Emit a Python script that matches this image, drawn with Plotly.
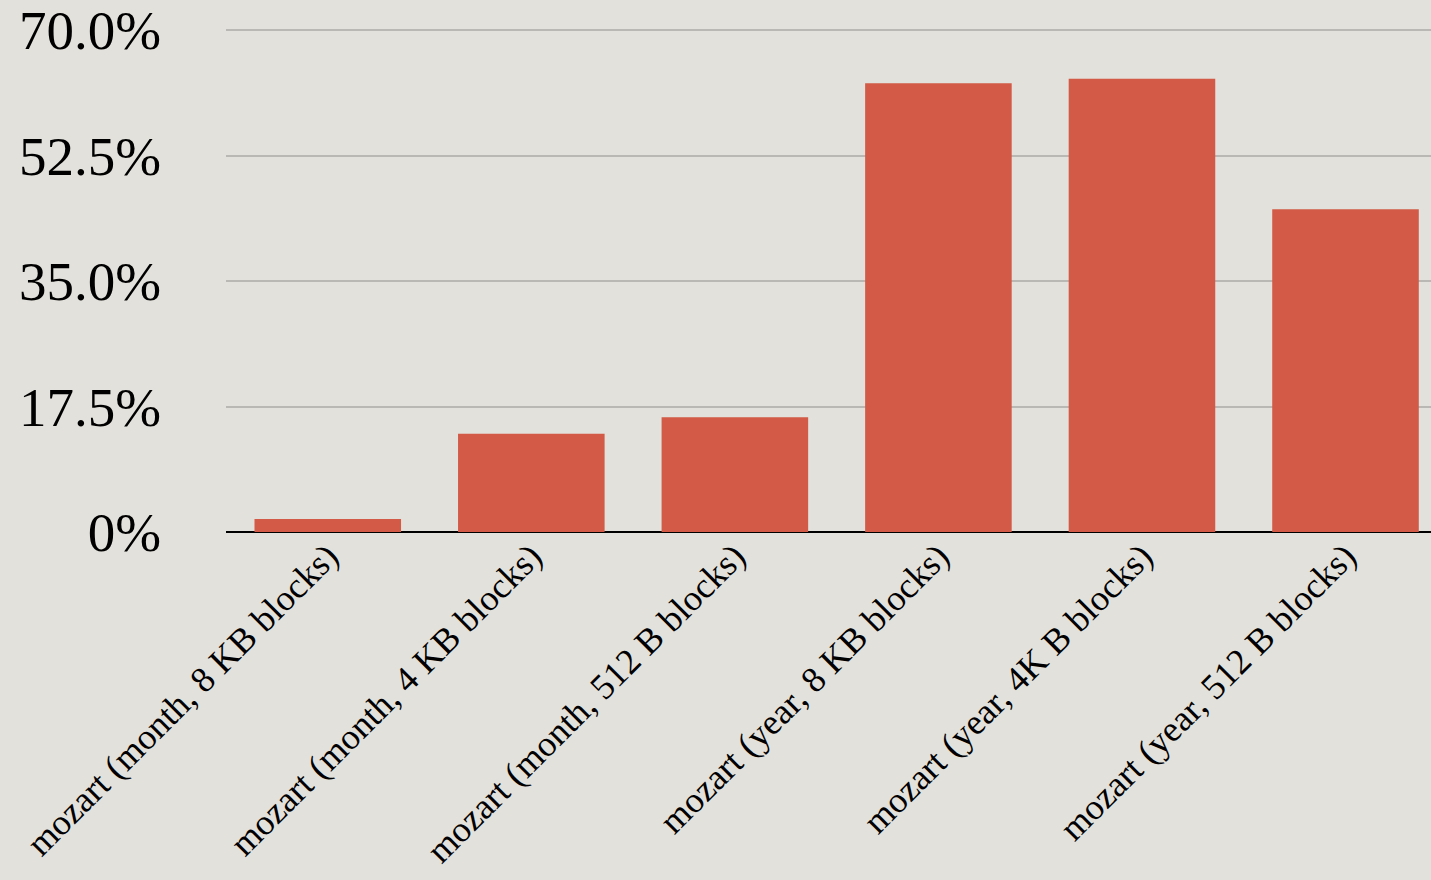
import plotly.graph_objects as go

categories = [
    "mozart (month, 8 KB blocks)",
    "mozart (month, 4 KB blocks)",
    "mozart (month, 512 B blocks)",
    "mozart (year, 8 KB blocks)",
    "mozart (year, 4K B blocks)",
    "mozart (year, 512 B blocks)",
]
values = [1.8, 13.7, 16.0, 62.6, 63.2, 45.0]
y_tickvals = [0, 17.5, 35, 52.5, 70]
y_ticktext = ["0%", "17.5%", "35.0%", "52.5%", "70.0%"]

FONT = "Liberation Serif, Times New Roman, serif"

fig = go.Figure(
    go.Bar(
        x=list(range(len(categories))),
        y=values,
        width=0.72,
        marker=dict(color="#d25a46", line=dict(width=0)),
    )
)

fig.update_layout(
    width=1431,
    height=880,
    margin=dict(l=226, r=0, t=29, b=348, autoexpand=False),
    paper_bgcolor="#e3e1db",
    plot_bgcolor="#e3e1db",
    showlegend=False,
    font=dict(family=FONT, color="#000000"),
)

fig.update_xaxes(
    range=[-0.5, 5.42],
    tickmode="array",
    tickvals=list(range(len(categories))),
    ticktext=categories,
    tickangle=-45,
    tickfont=dict(family=FONT, size=36, color="#000000"),
    showgrid=False,
    showline=False,
    zeroline=False,
    ticks="",
    automargin=False,
    ticklabelstandoff=-5,
)

fig.update_yaxes(
    range=[0, 70.15],
    tickmode="array",
    tickvals=y_tickvals,
    ticktext=y_ticktext,
    tickfont=dict(family=FONT, size=55, color="#000000"),
    showgrid=True,
    gridcolor="#b9b8b4",
    gridwidth=2,
    zeroline=True,
    zerolinecolor="#000000",
    zerolinewidth=2,
    showline=False,
    ticks="",
    ticklabelstandoff=64,
    automargin=False,
)

fig.write_html(
    "out.html",
    config={"displayModeBar": False},
    post_script="document.body.style.margin='0';document.body.style.padding='0';document.body.style.overflow='hidden';",
)
